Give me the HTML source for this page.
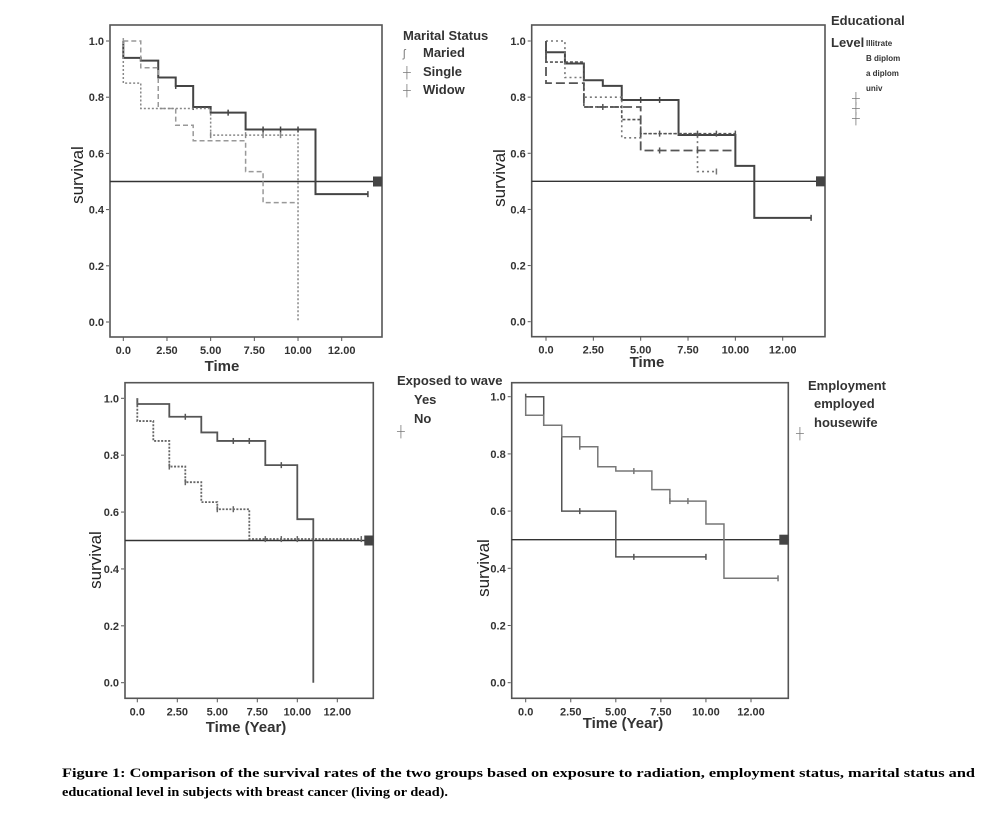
<!DOCTYPE html>
<html><head><meta charset="utf-8">
<style>
html,body{margin:0;padding:0;background:#fff;}
svg{display:block;}
text{font-family:"Liberation Sans",sans-serif;}
</style></head>
<body>
<svg id="fig" width="1003" height="824" viewBox="0 0 1003 824" xmlns="http://www.w3.org/2000/svg">
<rect width="1003" height="824" fill="#fff"/>
<text x="62" y="777" font-weight="bold" font-size="13" textLength="913" lengthAdjust="spacingAndGlyphs" style="font-family:'Liberation Serif',serif">Figure 1: Comparison of the survival rates of the two groups based on exposure to radiation, employment status, marital status and</text>
<text x="62" y="796" font-weight="bold" font-size="13" textLength="386" lengthAdjust="spacingAndGlyphs" style="font-family:'Liberation Serif',serif">educational level in subjects with breast cancer (living or dead).</text>
</svg>
<script>
// ---- Panel 1: Marital status ----
const maritalGroups = ["Maried", "Single", "Widow"];
const mariedTimes = [0, 1, 2, 3, 4, 5, 7, 11];
const mariedSurv = [0.94, 0.93, 0.87, 0.84, 0.765, 0.745, 0.685, 0.455];
const mariedCensor = [2, 3, 4, 6, 8, 9, 10, 14];
const singleTimes = [0, 1, 2, 3, 4, 7, 8];
const singleSurv = [1.0, 0.905, 0.76, 0.70, 0.645, 0.535, 0.425];
const singleCensor = [0];
const widowTimes = [0, 1, 5, 10];
const widowSurv = [0.85, 0.76, 0.665, 0.0];
const widowCensor = [5, 7, 8, 9];
// ---- Panel 2: Educational level ----
const eduGroups = ["Illitrate", "B diplom", "a diplom", "univ"];
const illTimes = [0, 1, 2, 3, 4, 7, 10, 11];
const illSurv = [0.96, 0.92, 0.86, 0.84, 0.79, 0.665, 0.555, 0.37];
const illCensor = [0, 5, 6, 14];
const bdipTimes = [0, 1, 2, 4, 5, 8];
const bdipSurv = [1.0, 0.87, 0.80, 0.655, 0.67, 0.535];
const bdipCensor = [9];
const adipTimes = [0, 2, 4, 5];
const adipSurv = [0.925, 0.765, 0.72, 0.67];
const adipCensor = [6, 8, 9, 10];
const univTimes = [0, 2, 5];
const univSurv = [0.85, 0.765, 0.61];
const univCensor = [3, 6, 8];
// ---- Panel 3: Exposed to wave ----
const waveGroups = ["Yes", "No"];
const yesTimes = [0, 2, 4, 5, 8, 10, 11];
const yesSurv = [0.98, 0.935, 0.88, 0.85, 0.765, 0.575, 0.0];
const yesCensor = [0, 3, 6, 7, 9];
const noTimes = [0, 1, 2, 3, 4, 5, 7];
const noSurv = [0.92, 0.85, 0.76, 0.705, 0.635, 0.61, 0.505];
const noCensor = [2, 3, 5, 6, 8, 9, 10, 14];
// ---- Panel 4: Employment ----
const empGroups = ["employed", "housewife"];
const employedTimes = [0, 1, 2, 5];
const employedSurv = [1.0, 0.90, 0.60, 0.44];
const employedCensor = [0, 3, 6, 10];
const housewifeTimes = [0, 1, 2, 3, 4, 5, 7, 8, 10, 11];
const housewifeSurv = [0.935, 0.90, 0.86, 0.825, 0.755, 0.74, 0.675, 0.635, 0.555, 0.365];
const housewifeCensor = [3, 6, 8, 9, 14];
const yTicks = [0, 0.2, 0.4, 0.6, 0.8, 1.0];
const xTickVals = [0, 2.5, 5, 7.5, 10, 12.5];
const xTickLabels = ["0.0", "2.50", "5.00", "7.50", "10.00", "12.00"];

const NS = "http://www.w3.org/2000/svg";
const svg = document.getElementById("fig");
function mk(tag, attrs, parent) {
  const e = document.createElementNS(NS, tag);
  for (const k in attrs) e.setAttribute(k, attrs[k]);
  (parent || svg).appendChild(e);
  return e;
}
function panel(cfg) {
  const g = mk("g", {});
  
  
  const X = t => cfg.x0 + (t / 12.5) * (cfg.x12 - cfg.x0);
  const Y = s => cfg.y0 + s * (cfg.y1 - cfg.y0);
  const frame = mk("rect", {x: cfg.bx, y: cfg.by, width: cfg.bw, height: cfg.bh, fill: "none", stroke: "#555", "stroke-width": 1.6}, g);
  
  
  yTicks.forEach(v => {
    mk("line", {x1: cfg.bx - 4, x2: cfg.bx - 1, y1: Y(v), y2: Y(v), stroke: "#555"}, g);
    const t = mk("text", {x: cfg.bx - 6, y: Y(v) + 4, "text-anchor": "end", "font-size": 11, "font-weight": "bold", fill: "#333"}, g);
    t.textContent = v.toFixed(1);
    
    
  });
  xTickVals.forEach((v, i) => {
    mk("line", {x1: X(v), x2: X(v), y1: cfg.by + cfg.bh, y2: cfg.by + cfg.bh + 4, stroke: "#555"}, g);
    const t = mk("text", {x: X(v), y: cfg.by + cfg.bh + 17, "text-anchor": "middle", "font-size": 11, "font-weight": "bold", fill: "#333"}, g);
    t.textContent = xTickLabels[i];
    
    
  });
  const ref = mk("line", {x1: cfg.bx, x2: cfg.bx + cfg.bw, y1: Y(0.5), y2: Y(0.5), stroke: "#333", "stroke-width": 1.4}, g);
  
  
  mk("rect", {x: cfg.bx + cfg.bw - 9, y: Y(0.5) - 5, width: 9, height: 10, fill: "#444"}, g);
  cfg.series.forEach(s => {
    let d = "M" + X(0) + "," + Y(1);
    for (let i = 0; i < s.t.length; i++) {
      const tEnd = i + 1 < s.t.length ? s.t[i + 1] : s.end;
      d += " L" + X(s.t[i]) + "," + Y(s.s[i]) + " L" + X(tEnd) + "," + Y(s.s[i]);
    }
    const p = mk("path", {d: d, fill: "none", stroke: s.color, "stroke-width": s.w || 1.8, "stroke-dasharray": s.dash || "none"}, g);
    
    
    s.c.forEach(ct => {
      let v = s.s[0];
      for (let i = 0; i < s.t.length; i++) if (s.t[i] <= ct) v = s.s[i];
      const m = mk("path", {d: "M" + (X(ct)) + "," + (Y(v) - 3) + " v6", stroke: s.color, "stroke-width": 1.5}, g);
      
      
    });
  });
  const yl = mk("text", {x: cfg.ylx, y: cfg.yly, "text-anchor": "middle", "font-size": 17, fill: "#222", transform: "rotate(-90 " + cfg.ylx + " " + cfg.yly + ")"}, g);
  yl.textContent = "survival";
  
  
  const xl = mk("text", {x: cfg.xlx, y: cfg.xly, "text-anchor": "middle", "font-size": 15, "font-weight": "bold", fill: "#333"}, g);
  xl.textContent = cfg.xlabel;
  
  
  cfg.legend.forEach(L => {
    const t = mk("text", {x: L.x, y: L.y, "font-size": L.fs, "font-weight": "bold", fill: "#333"}, g);
    t.textContent = L.text;
    
    
  });
  (cfg.glyphs || []).forEach(gl => {
    mk("text", {x: gl.x, y: gl.y, "font-size": 11, fill: "#777"}, g).textContent = gl.ch;
  });
}
panel({name: "marital-status-panel", bx: 110, by: 25, bw: 272, bh: 312, x0: 123.3, x12: 341.7, y0: 322, y1: 41,
  ylx: 83, yly: 175, xlx: 222, xly: 371, xlabel: "Time",
  series: [
    {id: "maried", t: mariedTimes, s: mariedSurv, c: mariedCensor, end: 14, color: "#444", w: 2},
    {id: "single", t: singleTimes, s: singleSurv, c: singleCensor, end: 10, color: "#999", dash: "5,3", w: 1.5},
    {id: "widow", t: widowTimes, s: widowSurv, c: widowCensor, end: 10, color: "#888", dash: "2,2", w: 1.5}],
  legend: [{x: 403, y: 40, fs: 13, text: "Marital Status"}, {x: 423, y: 57, fs: 13, text: maritalGroups[0]},
    {x: 423, y: 76, fs: 13, text: maritalGroups[1]}, {x: 423, y: 94, fs: 13, text: maritalGroups[2]}],
  glyphs: [{x: 403, y: 57, ch: "ʃ"}, {x: 403, y: 76, ch: "┼"}, {x: 403, y: 94, ch: "┼"}]
});
panel({name: "educational-level-panel", bx: 531.7, by: 25, bw: 293.3, bh: 311.7, x0: 546, x12: 782.7, y0: 321.7, y1: 41,
  ylx: 505, yly: 178, xlx: 647, xly: 367, xlabel: "Time",
  series: [
    {id: "illitrate", t: illTimes, s: illSurv, c: illCensor, end: 14, color: "#444", w: 2},
    {id: "b-diplom", t: bdipTimes, s: bdipSurv, c: bdipCensor, end: 9, color: "#777", dash: "2,3", w: 1.6},
    {id: "a-diplom", t: adipTimes, s: adipSurv, c: adipCensor, end: 10, color: "#555", dash: "3,2", w: 1.6},
    {id: "univ", t: univTimes, s: univSurv, c: univCensor, end: 10, color: "#555", dash: "9,4", w: 1.8}],
  legend: [{x: 831, y: 25, fs: 13, text: "Educational"}, {x: 831, y: 47, fs: 13, text: "Level"},
    {x: 866, y: 46, fs: 8, text: eduGroups[0]}, {x: 866, y: 61, fs: 8, text: eduGroups[1]},
    {x: 866, y: 76, fs: 8, text: eduGroups[2]}, {x: 866, y: 91, fs: 8, text: eduGroups[3]}],
  glyphs: [{x: 852, y: 102, ch: "┼"}, {x: 852, y: 112, ch: "┼"}, {x: 852, y: 122, ch: "┼"}]
});
panel({name: "exposed-to-wave-panel", bx: 125, by: 382.7, bw: 248.3, bh: 315.6, x0: 137.3, x12: 337.3, y0: 682.7, y1: 398.3,
  ylx: 101, yly: 560, xlx: 246, xly: 732, xlabel: "Time (Year)",
  series: [
    {id: "yes", t: yesTimes, s: yesSurv, c: yesCensor, end: 11, color: "#555", w: 1.8},
    {id: "no", t: noTimes, s: noSurv, c: noCensor, end: 14, color: "#666", dash: "2,1.5", w: 1.8}],
  legend: [{x: 397, y: 385, fs: 13, text: "Exposed to wave"}, {x: 414, y: 404, fs: 13, text: waveGroups[0]},
    {x: 414, y: 423, fs: 13, text: waveGroups[1]}],
  glyphs: [{x: 397, y: 435, ch: "┼"}]
});
panel({name: "employment-panel", bx: 511.7, by: 382.7, bw: 276.6, bh: 315.6, x0: 525.7, x12: 751, y0: 682.7, y1: 396.7,
  ylx: 489, yly: 568, xlx: 623, xly: 728, xlabel: "Time (Year)",
  series: [
    {id: "employed", t: employedTimes, s: employedSurv, c: employedCensor, end: 10, color: "#555", w: 1.5},
    {id: "housewife", t: housewifeTimes, s: housewifeSurv, c: housewifeCensor, end: 14, color: "#777", w: 1.5}],
  legend: [{x: 808, y: 390, fs: 13, text: "Employment"}, {x: 814, y: 408, fs: 13, text: empGroups[0]},
    {x: 814, y: 427, fs: 13, text: empGroups[1]}],
  glyphs: [{x: 796, y: 437, ch: "┼"}]
});
</script>
</body></html>
